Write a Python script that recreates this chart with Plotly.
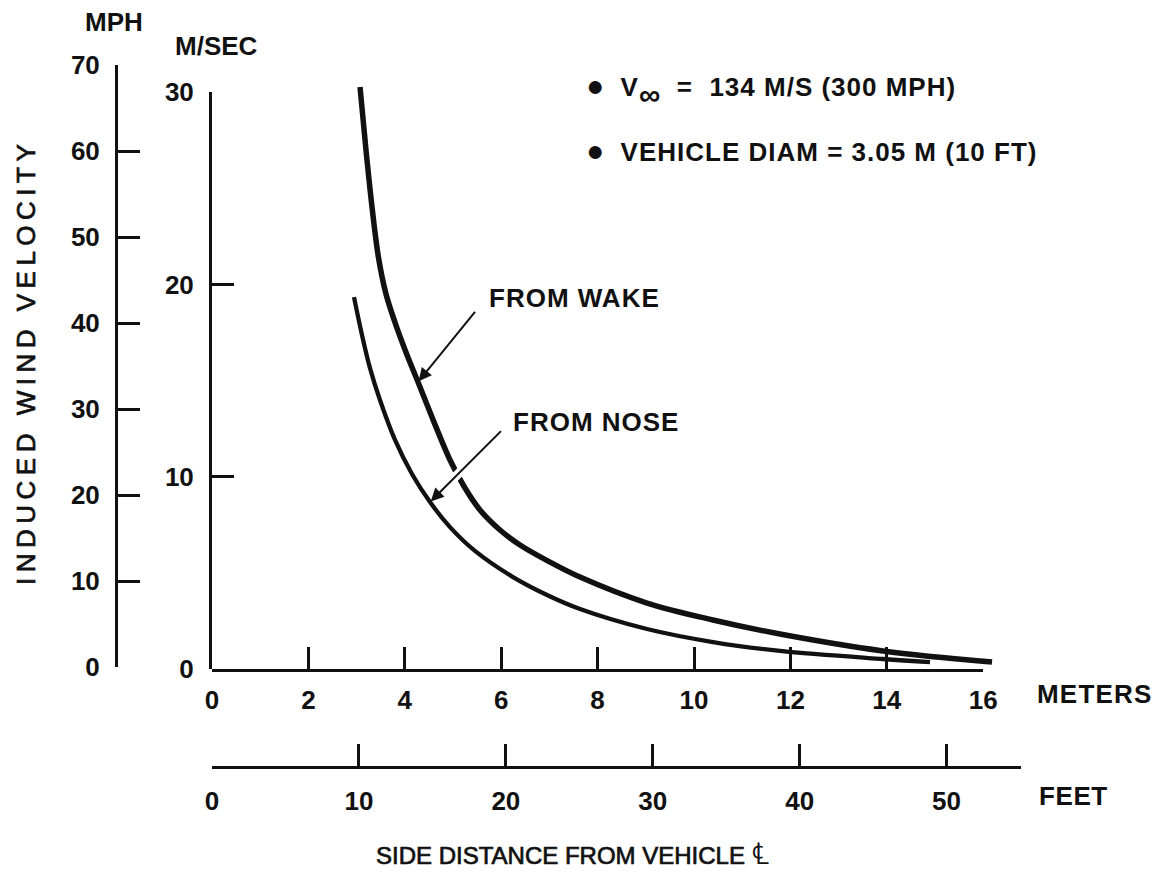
import plotly.graph_objects as go

# ---------------- data ----------------
wake_m = [3.071, 3.195, 3.320, 3.454, 3.610, 3.800, 4.020, 4.274, 4.606, 4.938,
          5.249, 5.560, 5.975, 6.390, 7.012, 7.635, 9.025, 10.394, 11.784,
          13.921, 16.183]
wake_v = [30.27, 26.99, 24.02, 21.40, 19.50, 18.00, 16.50, 14.92, 12.84, 10.87,
          9.41, 8.27, 7.23, 6.45, 5.56, 4.78, 3.43, 2.55, 1.82, 0.94, 0.36]

nose_m = [2.946, 3.112, 3.278, 3.485, 3.797, 4.149, 4.523, 4.938, 5.456, 6.245,
          6.95, 7.635, 9.025, 10.394, 11.784, 13.92, 14.896]
nose_v = [19.34, 17.37, 15.65, 13.99, 11.91, 10.14, 8.68, 7.38, 6.14, 4.78,
          3.85, 3.12, 2.08, 1.40, 0.94, 0.52, 0.36]

meter_ticks = [0, 2, 4, 6, 8, 10, 12, 14, 16]
feet_ticks = [0, 10, 20, 30, 40, 50]
ms_ticks = [0, 10, 20, 30]
mph_ticks = [0, 10, 20, 30, 40, 50, 60, 70]

FT_PER_M = 3.28084
MS_PER_MPH = 0.44704

# ---------------- layout geometry (pixels) ----------------
W, H = 1161, 872
X0, Y0 = 212, 669          # origin of the metric plot
PX_M = 48.2                # pixels per metre
PX_MS = 19.23              # pixels per m/s
FEET_END = 55.1            # feet axis line extends a bit past 50
MPH_X = 116
MPH_Y0 = 667
FEET_Y = 767


def fx(px):
    return px / W


def fy(py):
    return 1 - py / H


INK = "#111111"
FONT = "Liberation Sans, Arial, Helvetica, sans-serif"

fig = go.Figure()

fig.add_trace(go.Scatter(x=wake_m, y=wake_v, mode="lines", line_shape="spline",
                         line=dict(color=INK, width=5.5), showlegend=False,
                         hoverinfo="skip", xaxis="x", yaxis="y"))
fig.add_trace(go.Scatter(x=nose_m, y=nose_v, mode="lines", line_shape="spline",
                         line=dict(color=INK, width=4.3), showlegend=False,
                         hoverinfo="skip", xaxis="x", yaxis="y"))

# invisible anchor traces so each visible axis gets drawn
inv = dict(mode="markers", marker=dict(size=1, color="rgba(0,0,0,0)"),
           showlegend=False, hoverinfo="skip")
fig.add_trace(go.Scatter(x=[meter_ticks[0]], y=[0], xaxis="x2", yaxis="y", **inv))
fig.add_trace(go.Scatter(x=[feet_ticks[0]], y=[0], xaxis="x3", yaxis="y", **inv))
fig.add_trace(go.Scatter(x=[0], y=[ms_ticks[0]], xaxis="x", yaxis="y2", **inv))
fig.add_trace(go.Scatter(x=[0], y=[mph_ticks[0]], xaxis="x", yaxis="y3", **inv))

axis_style = dict(showline=True, linecolor=INK, linewidth=3, ticks="inside",
                  ticklen=22, tickwidth=2.5, tickcolor=INK, showgrid=False,
                  zeroline=False, tickmode="array",
                  tickfont=dict(family=FONT, size=26, color=INK, weight="bold"),
                  fixedrange=True)

x_top = 17.0
y_top = 31.5
fig.update_layout(
    width=W, height=H,
    margin=dict(l=0, r=0, t=0, b=0, autoexpand=False),
    paper_bgcolor="white", plot_bgcolor="rgba(0,0,0,0)",
    xaxis=dict(domain=[fx(X0), fx(X0 + x_top * PX_M)], range=[0, x_top],
               visible=False, fixedrange=True),
    yaxis=dict(domain=[fy(Y0), fy(Y0 - y_top * PX_MS)], range=[0, y_top],
               visible=False, fixedrange=True),
    xaxis2=dict(domain=[fx(X0), fx(X0 + meter_ticks[-1] * PX_M)],
                range=[0, meter_ticks[-1]], anchor="y", tickvals=meter_ticks,
                ticklabelstandoff=6, **axis_style),
    xaxis3=dict(domain=[fx(X0), fx(X0 + FEET_END / FT_PER_M * PX_M)],
                range=[0, FEET_END], anchor="free", position=fy(FEET_Y),
                tickvals=feet_ticks, ticklabelstandoff=10, **axis_style),
    yaxis2=dict(domain=[fy(Y0), fy(Y0 - ms_ticks[-1] * PX_MS)],
                range=[0, ms_ticks[-1]], anchor="x", tickvals=ms_ticks,
                ticklabelstandoff=10, **axis_style),
    yaxis3=dict(domain=[fy(MPH_Y0), fy(MPH_Y0 - mph_ticks[-1] * MS_PER_MPH * PX_MS)],
                range=[0, mph_ticks[-1]], anchor="free", position=fx(MPH_X),
                tickvals=mph_ticks, ticklabelstandoff=10, **axis_style),
)

txt = dict(family=FONT, size=26, color=INK, weight="bold")
txt_r = dict(family=FONT, size=24, color=INK)


def label(text, px, py, xanchor="center", font=txt, **kw):
    fig.add_annotation(text=text, x=fx(px), y=fy(py), xref="paper", yref="paper",
                       xanchor=xanchor, yanchor="middle", showarrow=False,
                       font=font, **kw)


def spaced(s, px):
    return f'<span style="letter-spacing:{px}px">{s}</span>'


def medium(s, spacing=0):
    return (f'<span style="stroke:{INK};stroke-width:0.7px;'
            f'letter-spacing:{spacing}px">{s}</span>')


BULLET = '<span style="font-size:30px">●</span>'
INF = '<span style="font-size:30px;baseline-shift:-9px">∞</span>'
label("MPH", 114, 22)
label("M/SEC", 216, 46)
label(medium("INDUCED WIND VELOCITY", 5.5), 26, 362,
      font=dict(family=FONT, size=26, color=INK), textangle=-90)
label(spaced("METERS", 1.2), 1035, 694, xanchor="left")
label(spaced("FEET", 0.6), 1037, 796, xanchor="left")
label(medium("SIDE DISTANCE FROM VEHICLE ") + '<span style="font-size:30px">℄</span>',
      572, 853, font=txt_r)
label(BULLET + spaced("  V", 1) + INF + spaced("  =  134 M/S (300 MPH)", 1),
      584, 90, xanchor="left")
label(BULLET + spaced("  VEHICLE DIAM = 3.05 M (10 FT)", 1), 584, 150, xanchor="left")
label(spaced("FROM WAKE", 1), 487, 298, xanchor="left")
label(spaced("FROM NOSE", 1), 511, 422, xanchor="left")

# arrows pointing at the curves (nose arrow gets a white halo that breaks
# the wake curve where it crosses, as in the original drawing)
arrows = [(wake_m[7], wake_v[7], 60, -74), (nose_m[6], nose_v[6], 74, -74)]
fig.add_annotation(x=arrows[1][0], y=arrows[1][1], xref="x", yref="y", text=" ",
                   showarrow=True, ax=arrows[1][2], ay=arrows[1][3], arrowhead=0,
                   arrowwidth=9, arrowcolor="white", standoff=16, startstandoff=20)
for (hx, hy, ax, ay) in arrows:
    fig.add_annotation(x=hx, y=hy, xref="x", yref="y", text=" ", showarrow=True,
                       ax=ax, ay=ay, arrowhead=2, arrowsize=1.3, arrowwidth=2,
                       arrowcolor=INK, standoff=1)

fig.write_html("out.html")
